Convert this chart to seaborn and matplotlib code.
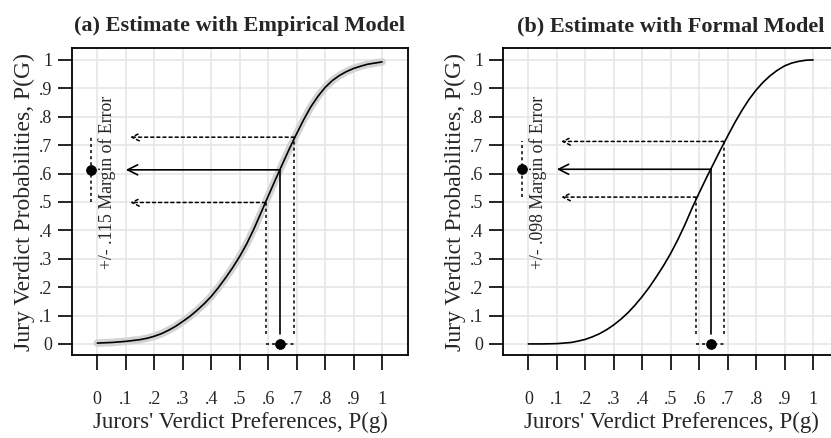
import matplotlib
matplotlib.use('Agg')
import matplotlib.pyplot as plt
import seaborn as sns
import pandas as pd

# curves (P(g) -> P(G))
pg = [0, .025, .05, .075, .1, .125, .15, .175, .2, .225, .25, .275, .3, .325, .35, .375,
      .4, .425, .45, .475, .5, .525, .55, .575, .6, .625, .65, .675, .7, .725, .75, .775,
      .8, .825, .85, .875, .9, .925, .95, .975, 1]
empirical = [.003, .004, .005, .007, .009, .012, .015, .020, .027, .036, .048, .062, .079,
             .097, .118, .141, .167, .198, .232, .268, .308, .353, .405, .462, .520, .577,
             .633, .688, .740, .790, .835, .872, .903, .927, .945, .959, .970, .978, .985,
             .989, .993]
formal = [0, 0, 0, .0005, .001, .003, .005, .010, .016, .025, .036, .050, .067, .087, .110,
          .137, .167, .200, .237, .276, .319, .367, .42, .478, .532, .584, .634, .684, .732,
          .779, .822, .861, .894, .922, .945, .964, .979, .989, .995, .999, 1.0]

# estimate and margins
est_pg = [0.642, 0.641]
est_PG = [0.613, 0.615]
margin = [0.115, 0.098]
pg_low = [0.591, 0.590]
pg_high = [0.692, 0.688]

titles = ['(a) Estimate with Empirical Model', '(b) Estimate with Formal Model']
tick_vals = [0, .1, .2, .3, .4, .5, .6, .7, .8, .9, 1]
tick_labels = ['0', '.1', '.2', '.3', '.4', '.5', '.6', '.7', '.8', '.9', '1']

df = pd.DataFrame({'pg': pg, 'empirical': empirical, 'formal': formal})

sns.set_theme(style='white')
plt.rcParams['font.family'] = ['Liberation Serif', 'DejaVu Serif']

fig = plt.figure(figsize=(8.31, 4.38), dpi=100)
ax1 = fig.add_axes([0.0866, 0.1895, 0.4043, 0.7009])
ax2 = fig.add_axes([0.6053, 0.1895, 0.4043, 0.7009])

dot = (0, (2.0, 2.0))

for i, ax in enumerate([ax1, ax2]):
    col = 'empirical' if i == 0 else 'formal'
    if i == 0:
        sns.lineplot(data=df, x='pg', y=col, ax=ax, color='#d3d3d3', linewidth=5.5)
    sns.lineplot(data=df, x='pg', y=col, ax=ax, color='black', linewidth=1.2)

    x0, y0, m = est_pg[i], est_PG[i], margin[i]
    lo, hi = pg_low[i], pg_high[i]
    base = 0.035
    tip = 0.10
    # solid estimate lines
    ax.plot([x0, x0], [base, y0], color='black', lw=1.2)
    ax.annotate('', xy=(tip, y0), xytext=(x0, y0),
                arrowprops=dict(arrowstyle='->,head_length=0.6,head_width=0.3',
                                color='black', lw=1.2, shrinkA=0, shrinkB=0))
    # dotted margin lines
    for xv, yv in [(lo, y0 - m), (hi, y0 + m)]:
        ax.plot([xv, xv], [base, yv], color='black', lw=1.1, linestyle=dot)
        ax.annotate('', xy=(tip + 0.015, yv), xytext=(xv, yv),
                    arrowprops=dict(arrowstyle='->,head_length=0.45,head_width=0.22',
                                    color='black', lw=1.1, linestyle=dot,
                                    shrinkA=0, shrinkB=0))
    # points with error bars
    ax.plot([lo, hi], [0, 0], color='black', lw=1.1, linestyle=dot)
    ax.plot([-0.023, -0.023], [y0 - m, y0 + m], color='black', lw=1.1, linestyle=dot)
    sns.scatterplot(x=[x0, -0.023], y=[0, y0], ax=ax, color='black', s=50,
                    edgecolor='black', zorder=5)
    ax.text(0.033, 0.57, '+/- %s Margin of Error' % ('%.3f' % m).lstrip('0'),
            rotation=90, ha='center', va='center', fontsize=12.8)

    ax.set_xlim(-0.089, 1.091)
    ax.set_ylim(-0.039, 1.042)
    ax.set_xticks(tick_vals)
    ax.set_xticklabels(tick_labels)
    ax.set_yticks(tick_vals)
    ax.set_yticklabels(tick_labels)
    ax.grid(True, color='#e6e6e6', lw=1.2)
    ax.set_axisbelow(True)
    for s in ax.spines.values():
        s.set_color('black')
        s.set_linewidth(1.3)
    ax.tick_params(axis='x', direction='out', length=11, width=1.2, pad=15,
                   labelsize=13, color='black', bottom=True)
    ax.tick_params(axis='y', direction='out', length=10, width=1.2, pad=4,
                   labelsize=13, color='black', left=True)
    ax.set_xlabel("Jurors' Verdict Preferences, P(g)", fontsize=16.5, labelpad=3)
    ax.set_ylabel('Jury Verdict Probabilities, P(G)', fontsize=17, labelpad=3)
    ax.set_title(titles[i], fontsize=16, fontweight='bold', pad=12)

fig.savefig('out.png', dpi=100)
